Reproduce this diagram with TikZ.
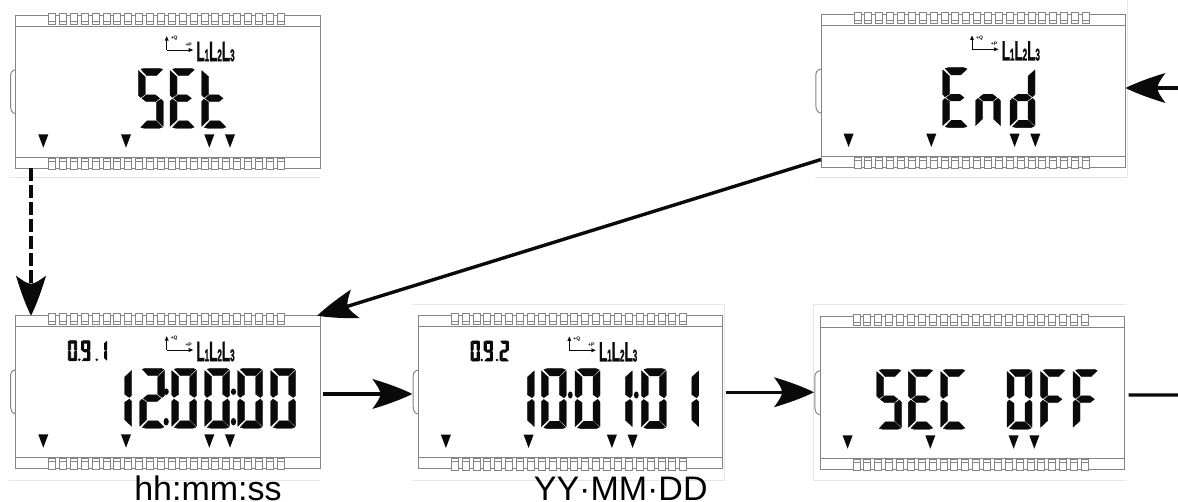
\documentclass[tikz,border=0pt]{standalone}
\usepackage{fontspec}
\setmainfont{Liberation Sans}
\newfontfamily\lcdbold[FakeBold=1.6]{Liberation Sans Bold}
\usetikzlibrary{arrows.meta}
\definecolor{lcdline}{HTML}{858585}
\definecolor{framegray}{HTML}{E6E6E6}
\definecolor{lcdink}{HTML}{0A0A0A}
\pgfdeclarearrow{
  name=FatHead,
  setup code={
    \pgfarrowssettipend{0pt}
    \pgfarrowssetbackend{-40pt}
    \pgfarrowssetlineend{-30pt}
    \pgfarrowssetvisualbackend{-30pt}
    \pgfarrowshullpoint{0pt}{0pt}
    \pgfarrowshullpoint{-40pt}{15pt}
    \pgfarrowshullpoint{-40pt}{-15pt}
  },
  drawing code={
    \pgfpathmoveto{\pgfqpoint{0pt}{0pt}}
    \pgfpathcurveto{\pgfqpoint{-12pt}{6pt}}{\pgfqpoint{-28pt}{11.5pt}}{\pgfqpoint{-40pt}{15pt}}
    \pgfpathcurveto{\pgfqpoint{-35pt}{8pt}}{\pgfqpoint{-32pt}{4pt}}{\pgfqpoint{-32pt}{0pt}}
    \pgfpathcurveto{\pgfqpoint{-32pt}{-4pt}}{\pgfqpoint{-35pt}{-8pt}}{\pgfqpoint{-40pt}{-15pt}}
    \pgfpathcurveto{\pgfqpoint{-28pt}{-11.5pt}}{\pgfqpoint{-12pt}{-6pt}}{\pgfqpoint{0pt}{0pt}}
    \pgfpathclose
    \pgfusepathqfill
  }
}
\newcommand\spa{(2.5,0.9) -- (6,0) -- (21,0) -- (24.3,1.2) -- (18,7.4) -- (8.6,7.4) -- cycle}
\newcommand\spb{(25,2.2) -- (25,26.8) -- (22.7,29.2) -- (18,26) -- (18,8.6) -- cycle}
\newcommand\spc{(22.7,30.8) -- (25,33.2) -- (25,58) -- (18,51.4) -- (18,34) -- cycle}
\newcommand\spd{(8.6,52.6) -- (18,52.6) -- (24.3,58.8) -- (21,60) -- (6,60) -- (2.5,59.1) -- cycle}
\newcommand\spe{(0,33.2) -- (2.3,30.8) -- (7,34) -- (7,51.4) -- (0,58) -- cycle}
\newcommand\spf{(0,2.2) -- (7,8.6) -- (7,26) -- (2.3,29.2) -- (0,26.8) -- cycle}
\newcommand\spg{(3.6,30) -- (8,26.6) -- (17,26.6) -- (21.4,30) -- (17,33.4) -- (8,33.4) -- cycle}
% glyph: x, y, scale, stroke, segments
\newcommand\lcdglyph[5]{%
  \begin{scope}[shift={(#1,#2)},scale=#3]
    \foreach \s in {#5}{\path[fill=lcdink,draw=lcdink,line width=#4,line join=round] \csname sp\s\endcsname;}
  \end{scope}}
\newcommand\bigglyph[2]{\lcdglyph{#1}{52.6}{1}{.35pt}{#2}}
\newcommand\smallglyph[2]{\lcdglyph{#1}{25}{.335}{.75pt}{#2}}
% panel: name, x, y
\newcommand\lcdpanel[3]{%
  \node[lcdbody] (#1) at (#2,#3) {};
  \begin{scope}[shift={(#2,#3)}]
    \draw[lcdstroke] (0,11) -- (304.5,11);
    \draw[lcdstroke] (0,141.5) -- (304.5,141.5);
    \draw[lcdstroke] (0,54) .. controls (-5,55) and (-5.2,58) .. (-5.2,62) -- (-5.2,90) .. controls (-5.2,95) and (-3,98) .. (0,98);
    \foreach \i in {0,...,21}{
      \pgfmathsetmacro\px{33+\i*10.88}
      \draw[lcdstroke,fill=white] (\px,-2.3) rectangle ++(7,10.8);
      \draw[lcdstroke,line width=.5pt] (\px,5.6) -- ++(7,0);
      \draw[lcdstroke,fill=white] (\px,142.6) rectangle ++(7,11.4);
      \draw[lcdstroke,line width=.5pt] (\px,145.6) -- ++(7,0);
    }
    \foreach \tx in {27.6,110.3,193.6,214.3}{
      \fill[lcdink] (\tx-5,118.7) -- (\tx+5,118.7) -- (\tx,132) -- cycle;
    }
  \end{scope}}
% +Q/+P axes and L1L2L3: x, y of the panel, name prefix
\newcommand\lcdaxes[3]{%
  \begin{scope}[shift={(#1,#2)}]
    \draw[line width=1pt,lcdink] (151,34.3) -- (151,23);
    \fill[lcdink] (151,20.5) -- (153,25) -- (149,25) -- cycle;
    \draw[line width=.9pt,lcdink] (151,34.3) -- (174,34.3);
    \fill[lcdink] (177.5,34.3) -- (173,32.3) -- (173,36.3) -- cycle;
    \node[tinylabel] (#3q) at (158.5,23) {+Q};
    \node[tinylabel] (#3p) at (173,29) {+P};
    \node[anchor=base west,inner sep=0pt,lcdink] (#3l) at (180.5,45.5)
      {\scalebox{.48}[1]{\lcdbold\fontsize{28}{28}\selectfont L\fontsize{17}{17}\selectfont 1\fontsize{28}{28}\selectfont L\fontsize{17}{17}\selectfont 2\fontsize{28}{28}\selectfont L\fontsize{17}{17}\selectfont 3}};
  \end{scope}}
\tikzset{
  x=1pt,y=-1pt,
  lcdstroke/.style={draw=lcdline,line width=1pt},
  lcdbody/.style={draw=lcdline,line width=1pt,fill=white,anchor=north west,rectangle,minimum width=304.5pt,minimum height=152.5pt,inner sep=0pt,outer sep=0pt},
  framerule/.style={draw=framegray,line width=1pt},
  flow/.style={line width=3.4pt,lcdink,-{FatHead}},
  tinylabel/.style={font=\bfseries\fontsize{5}{5}\selectfont,inner sep=0pt,lcdink},
  caption/.style={font=\fontsize{34}{34}\selectfont,inner sep=0pt,anchor=base,text=black},
  ocr/.style={text opacity=0,inner sep=0pt,font=\fontsize{50}{50}\selectfont},
  ocrsmall/.style={text opacity=0,inner sep=0pt,font=\fontsize{17}{17}\selectfont},
}
\begin{document}
\begin{tikzpicture}
\useasboundingbox (0,0) rectangle (1178,502);
\fill[white] (0,0) rectangle (1178,502);
% faint picture frames
\draw[framerule] (9,178) -- (320,178);
\draw[framerule] (9,480) -- (320,480);
\draw[framerule] (412,480) -- (724,480) -- (724,305) -- (412,305);
\draw[framerule] (1126,305) -- (813,305) -- (813,480) -- (1126,480);
\draw[framerule] (815,178) -- (1127,178) -- (1127,0);
% panels
\lcdpanel{setp}{15.7}{15.7}
\lcdpanel{endp}{821}{15}
\lcdpanel{clockp}{15.7}{315.7}
\lcdpanel{datep}{418.3}{316}
\lcdpanel{secp}{820}{316.7}
\lcdaxes{15.7}{15.7}{seta}
\lcdaxes{821}{15}{enda}
\lcdaxes{15.7}{315.7}{clocka}
\lcdaxes{418.3}{316}{datea}
% SEt
\begin{scope}[shift={(15.7,15.7)}]
  \bigglyph{122.6}{a,f,g,c,d}
  \bigglyph{154.3}{a,f,g,e,d}
  \bigglyph{186}{f,e,g,d}
  \node[ocr] (settext) at (170,82) {SEt};
\end{scope}
% End
\begin{scope}[shift={(821,15)}]
  \bigglyph{121.7}{a,f,g,e,d}
  \bigglyph{154.5}{e,g,c}
  \bigglyph{189}{b,c,d,e,g}
  \node[ocr] (endtext) at (170,82) {End};
\end{scope}
% 12:00:00
\begin{scope}[shift={(15.7,315.7)}]
  \smallglyph{52.6}{a,b,c,d,e,f}
  \fill[lcdink] (63.6,44) circle (1.4);
  \smallglyph{65.8}{a,b,c,d,f,g}
  \fill[lcdink] (81,44) circle (1.4);
  \smallglyph{82.7}{b,c}
  \node[ocrsmall] (clockcode) at (72,35) {0.9.1};
  \bigglyph{91}{b,c}
  \bigglyph{124}{a,b,g,e,d}
  \bigglyph{156}{a,b,c,d,e,f}
  \bigglyph{189}{a,b,c,d,e,f}
  \bigglyph{222}{a,b,c,d,e,f}
  \bigglyph{255}{a,b,c,d,e,f}
  \fill[lcdink] (150.5,76) ellipse (2.6 and 3.3);
  \fill[lcdink] (150.5,106) ellipse (2.6 and 3.8);
  \fill[lcdink] (217.8,76) ellipse (2.6 and 3.3);
  \fill[lcdink] (217.8,106) ellipse (2.6 and 3.8);
  \node[ocr] (clocktext) at (190,82) {12:00:00};
\end{scope}
% 10:01:01
\begin{scope}[shift={(418.3,316)}]
  \smallglyph{52.7}{a,b,c,d,e,f}
  \fill[lcdink] (63.4,44) circle (1.4);
  \smallglyph{65.8}{a,b,c,d,f,g}
  \fill[lcdink] (78.7,44) circle (1.4);
  \smallglyph{81.7}{a,b,g,e,d}
  \node[ocrsmall] (datecode) at (72,35) {0.9.2};
  \bigglyph{91}{b,c}
  \bigglyph{123}{a,b,c,d,e,f}
  \bigglyph{156.7}{a,b,c,d,e,f}
  \bigglyph{189}{b,c}
  \bigglyph{223}{a,b,c,d,e,f}
  \bigglyph{255.5}{b,c}
  \fill[lcdink] (152,79) ellipse (2.4 and 3.5);
  \fill[lcdink] (218,79) ellipse (2.4 and 3.5);
  \node[ocr] (datetext) at (190,82) {100101};
\end{scope}
% SEC OFF
\begin{scope}[shift={(820,316.7)}]
  \bigglyph{56.7}{a,f,g,c,d}
  \bigglyph{88.4}{a,f,g,e,d}
  \bigglyph{120.7}{a,f,e,d}
  \bigglyph{187}{a,b,c,d,e,f}
  \bigglyph{220.6}{a,f,g,e}
  \bigglyph{253}{a,f,g,e}
  \node[ocr] (sectext) at (170,82) {SEC OFF};
\end{scope}
% captions
\node[caption] (cap1) at (208,500) {hh:mm:ss};
\node[caption] (cap2) at (620.7,500) {YY·MM·DD};
% connectors
\coordinate (inEnd) at (1178,88);
\coordinate (outSec) at (1178,395);
\draw[flow] (inEnd) -- (endp.east |- inEnd);
\draw[flow,dash pattern=on 13pt off 4pt] ([xshift=15.3pt]setp.south west) -- ([xshift=15.3pt]clockp.north west);
\draw[flow] ([yshift=8pt]endp.south west) -- ([xshift=-3pt]clockp.north east);
\draw[flow] ([xshift=3pt,yshift=-2pt]clockp.east) -- ([xshift=-6pt,yshift=-2pt]clockp.east -| datep.west);
\draw[flow] ([xshift=3pt]datep.east) -- ([xshift=-6pt]datep.east -| secp.west);
\draw[line width=3.4pt,lcdink] ([xshift=4pt,yshift=-2pt]secp.east) -- (outSec);
\end{tikzpicture}
\end{document}
